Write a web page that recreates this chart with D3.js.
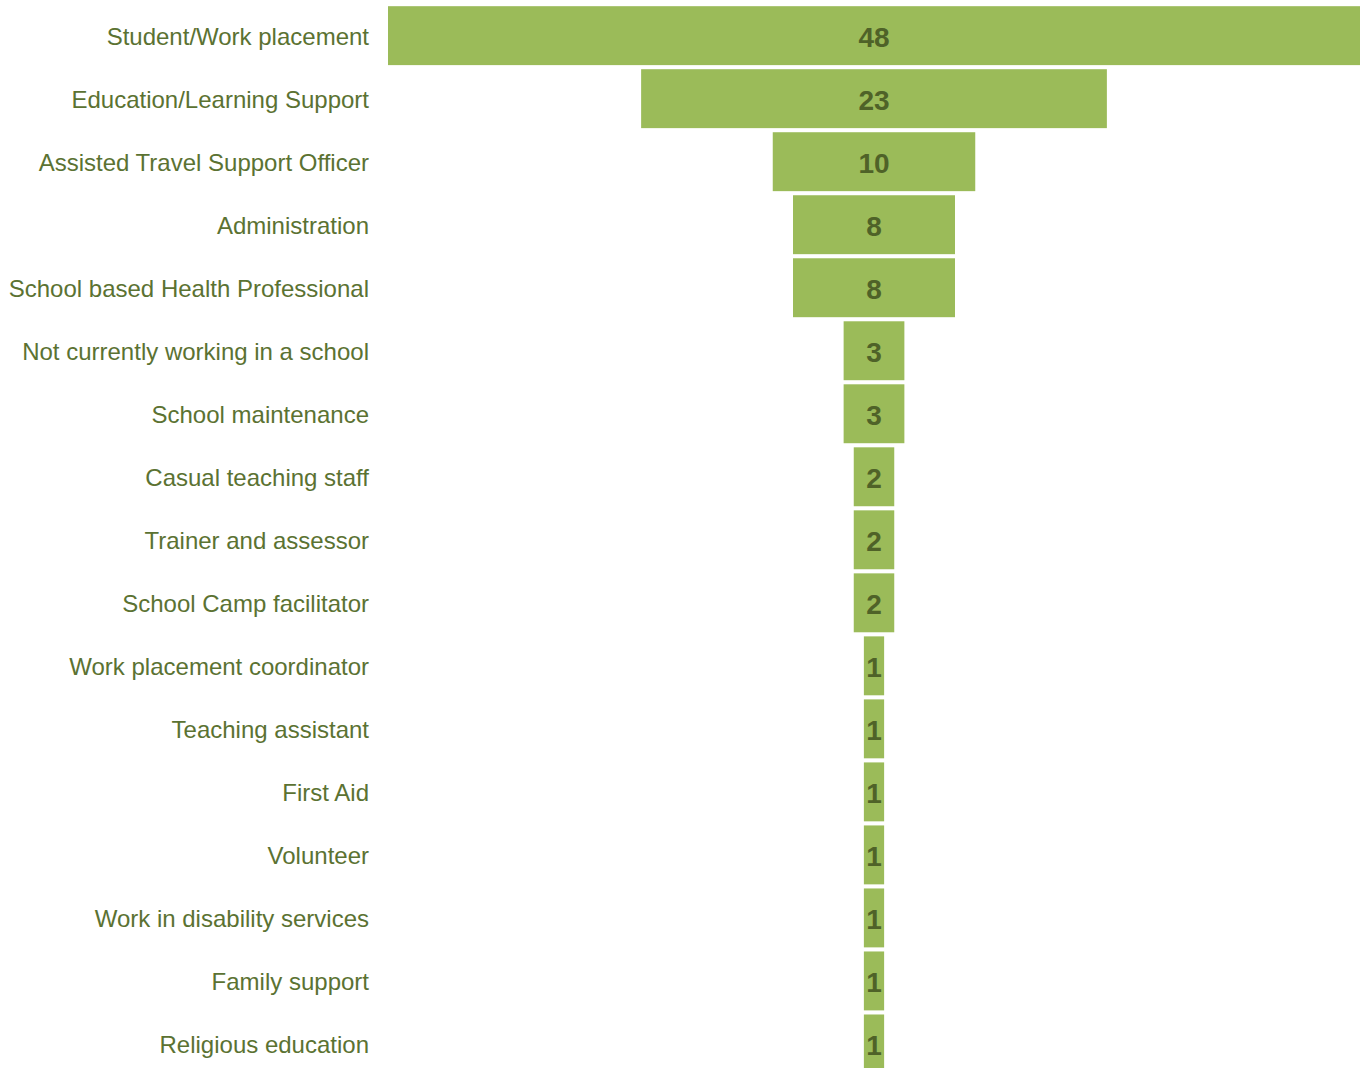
<!DOCTYPE html>
<html>
<head>
<meta charset="utf-8">
<script src="https://cdn.jsdelivr.net/npm/d3@7/dist/d3.min.js"></script>
<style>
  html, body { margin: 0; padding: 0; background: #ffffff; }
  svg { display: block; }
</style>
</head>
<body>
<svg id="chart" width="1366" height="1068"></svg>
<script>
// Roles held by respondents, sorted from most to least common
const categories = [
  "Student/Work placement",
  "Education/Learning Support",
  "Assisted Travel Support Officer",
  "Administration",
  "School based Health Professional",
  "Not currently working in a school",
  "School maintenance",
  "Casual teaching staff",
  "Trainer and assessor",
  "School Camp facilitator",
  "Work placement coordinator",
  "Teaching assistant",
  "First Aid",
  "Volunteer",
  "Work in disability services",
  "Family support",
  "Religious education"
];
const counts = [48, 23, 10, 8, 8, 3, 3, 2, 2, 2, 1, 1, 1, 1, 1, 1, 1];

const svg = d3.select("#chart");
const centerX = 874;
const maxHalfWidth = 486;

// Each bar is centered on the axis, width proportional to count (funnel layout)
const w = d3.scaleLinear().domain([0, d3.max(counts)]).range([0, maxHalfWidth * 2]);
const y = d3.scaleBand()
  .domain(categories)
  .range([4.3, 4.3 + categories.length * 63])
  .paddingInner(0.065)
  .paddingOuter(0.03);

const data = categories.map((c, i) => ({ name: c, value: counts[i] }));

svg.append("g")
  .selectAll("rect")
  .data(data)
  .join("rect")
  .attr("x", d => centerX - w(d.value) / 2)
  .attr("y", d => y(d.name))
  .attr("width", d => w(d.value))
  .attr("height", y.bandwidth())
  .attr("fill", "#9bbb59");

// Category labels on the left
svg.append("g")
  .selectAll("text")
  .data(data)
  .join("text")
  .attr("x", 369)
  .attr("y", d => y(d.name) + y.bandwidth() / 2)
  .attr("dy", "0.37em")
  .attr("text-anchor", "end")
  .attr("font-family", "'Liberation Sans', Arial, sans-serif")
  .attr("font-size", 24)
  .attr("fill", "#5b7232")
  .text(d => d.name);

// Value labels centered inside each bar
svg.append("g")
  .selectAll("text")
  .data(data)
  .join("text")
  .attr("x", centerX)
  .attr("y", d => y(d.name) + y.bandwidth() / 2)
  .attr("dy", "0.39em")
  .attr("text-anchor", "middle")
  .attr("font-family", "'Liberation Sans', Arial, sans-serif")
  .attr("font-weight", "bold")
  .attr("font-size", 28)
  .attr("fill", "#4f6228")
  .text(d => d.value);
</script>
</body>
</html>
